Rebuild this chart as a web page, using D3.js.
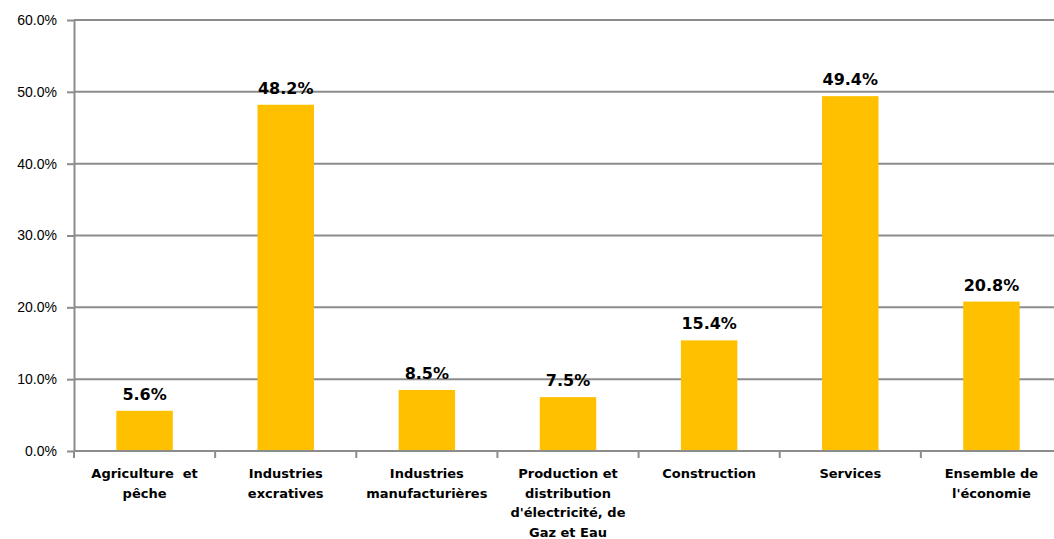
<!DOCTYPE html>
<html>
<head>
<meta charset="utf-8">
<script src="https://cdn.jsdelivr.net/npm/d3@7"></script>
<style>
  body { margin: 0; background: #fff; }
  svg { display: block; font-family: "DejaVu Sans", Verdana, sans-serif; }
  .grid line { stroke: #8c8c8c; stroke-width: 2; }
  .axis path, .axis line { stroke: #8c8c8c; stroke-width: 2; }
  .axis text { fill: #000; }
</style>
</head>
<body>
<div id="chart"></div>
<script>
var categories = [
  ['Agriculture  et', 'pêche'],
  ['Industries', 'excratives'],
  ['Industries', 'manufacturières'],
  ['Production et', 'distribution', "d'électricité, de", 'Gaz et Eau'],
  ['Construction'],
  ['Services'],
  ['Ensemble de', "l'économie"]
];
var values = [5.6, 48.2, 8.5, 7.5, 15.4, 49.4, 20.8];
var yTicks = [0, 10, 20, 30, 40, 50, 60];

var width = 1054;
var height = 539;
var margin = { left: 74, top: 20, bottom: 88 };
var plotRight = 1062;

var svg = d3.select('#chart').append('svg')
  .attr('width', width)
  .attr('height', height);

var x = d3.scaleBand()
  .domain(d3.range(categories.length))
  .range([margin.left, plotRight])
  .paddingInner(0.6)
  .paddingOuter(0.3);

var xOuter = d3.scaleBand()
  .domain(d3.range(categories.length))
  .range([margin.left, plotRight]);

var y = d3.scaleLinear()
  .domain([0, 60])
  .range([height - margin.bottom, margin.top]);

// gridlines
svg.append('g').attr('class', 'grid')
  .selectAll('line').data(yTicks.slice(1))
  .enter().append('line')
  .attr('x1', margin.left)
  .attr('x2', plotRight)
  .attr('y1', function(d) { return y(d); })
  .attr('y2', function(d) { return y(d); });

// bars
svg.append('g').selectAll('rect').data(values)
  .enter().append('rect')
  .attr('x', function(d, i) { return x(i); })
  .attr('width', x.bandwidth())
  .attr('y', function(d) { return y(d); })
  .attr('height', function(d) { return y(0) - y(d); })
  .attr('fill', '#ffc000');

// value labels
svg.append('g').selectAll('text').data(values)
  .enter().append('text')
  .attr('x', function(d, i) { return x(i) + x.bandwidth() / 2; })
  .attr('y', function(d) { return y(d) - 11; })
  .attr('text-anchor', 'middle')
  .attr('font-size', 16)
  .attr('font-weight', 'bold')
  .text(function(d) { return d.toFixed(1) + '%'; });

// y axis
var yAxis = svg.append('g').attr('class', 'axis')
  .attr('transform', 'translate(' + margin.left + ',0)')
  .call(d3.axisLeft(y).tickValues(yTicks)
    .tickFormat(function(d) { return d.toFixed(1) + '%'; })
    .tickSize(7).tickSizeOuter(0));
yAxis.selectAll('text').style('font-size', '14px').attr('x', -17);

// x axis baseline with ticks at category boundaries
var xAxis = svg.append('g').attr('class', 'axis');
xAxis.append('line')
  .attr('x1', margin.left).attr('x2', plotRight)
  .attr('y1', y(0)).attr('y2', y(0));
xAxis.selectAll('line.tick').data(d3.range(categories.length + 1))
  .enter().append('line')
  .attr('class', 'tick')
  .attr('x1', function(d) { return margin.left + d * xOuter.step(); })
  .attr('x2', function(d) { return margin.left + d * xOuter.step(); })
  .attr('y1', y(0))
  .attr('y2', y(0) + 7);

// category labels
var labels = svg.append('g').selectAll('text').data(categories)
  .enter().append('text')
  .attr('x', function(d, i) { return xOuter(i) + xOuter.bandwidth() / 2; })
  .attr('y', y(0) + 27)
  .attr('text-anchor', 'middle')
  .attr('font-size', 13)
  .attr('font-weight', 'bold');
labels.selectAll('tspan').data(function(d) { return d; })
  .enter().append('tspan')
  .attr('x', function() { return d3.select(this.parentNode).attr('x'); })
  .attr('dy', function(d, i) { return i === 0 ? 0 : 19.5; })
  .style('white-space', 'pre')
  .text(function(d) { return d; });
</script>
</body>
</html>
